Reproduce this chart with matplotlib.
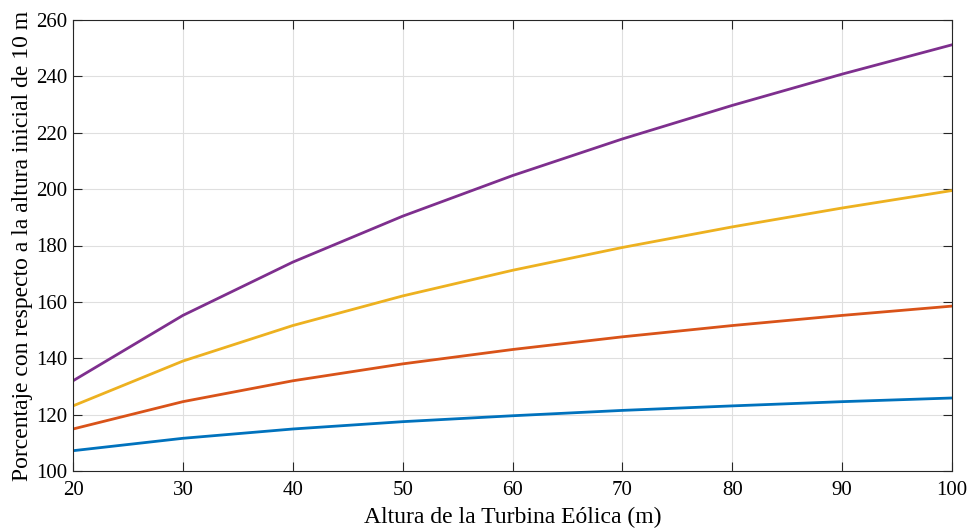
import matplotlib
matplotlib.use("Agg")
import matplotlib.pyplot as plt

plt.rcParams['font.family'] = ['Liberation Serif', 'DejaVu Serif']

altura = [20, 30, 40, 50, 60, 70, 80, 90, 100]
serie1 = [107.2, 111.6, 114.9, 117.5, 119.6, 121.5, 123.1, 124.6, 125.9]
serie2 = [114.9, 124.6, 132.0, 138.0, 143.1, 147.6, 151.6, 155.2, 158.5]
serie3 = [123.1, 139.0, 151.6, 162.1, 171.2, 179.3, 186.6, 193.3, 199.5]
serie4 = [132.0, 155.2, 174.1, 190.4, 204.8, 217.8, 229.7, 240.8, 251.2]

colores = ['#0072BD', '#D95319', '#EDB120', '#7E2F8E']

fig = plt.figure(figsize=(9.71, 5.29), dpi=100)
ax = fig.add_axes([73/971, 1-471/529, (952-73)/971, (471-20)/529])

for s, c in zip([serie1, serie2, serie3, serie4], colores):
    ax.plot(altura, s, color=c, linewidth=2)

ax.set_xlim(20, 100)
ax.set_ylim(100, 260)
ax.set_xticks(range(20, 101, 10))
ax.set_yticks(range(100, 261, 20))
ax.grid(True, color='#dfdfdf', linewidth=0.8)
ax.tick_params(direction='in', labelsize=15, length=6.5, width=0.8,
               top=True, right=True, color='#262626')
ax.tick_params(axis='x', pad=7.5)
ax.tick_params(axis='y', pad=4)
for sp in ax.spines.values():
    sp.set_linewidth(0.8)
    sp.set_color('#262626')

ax.set_xlabel('Altura de la Turbina Eólica (m)', fontsize=17, labelpad=5)
ax.set_ylabel('Porcentaje con respecto a la altura inicial de 10 m', fontsize=17, labelpad=2)

fig.savefig('out.png', dpi=100)
